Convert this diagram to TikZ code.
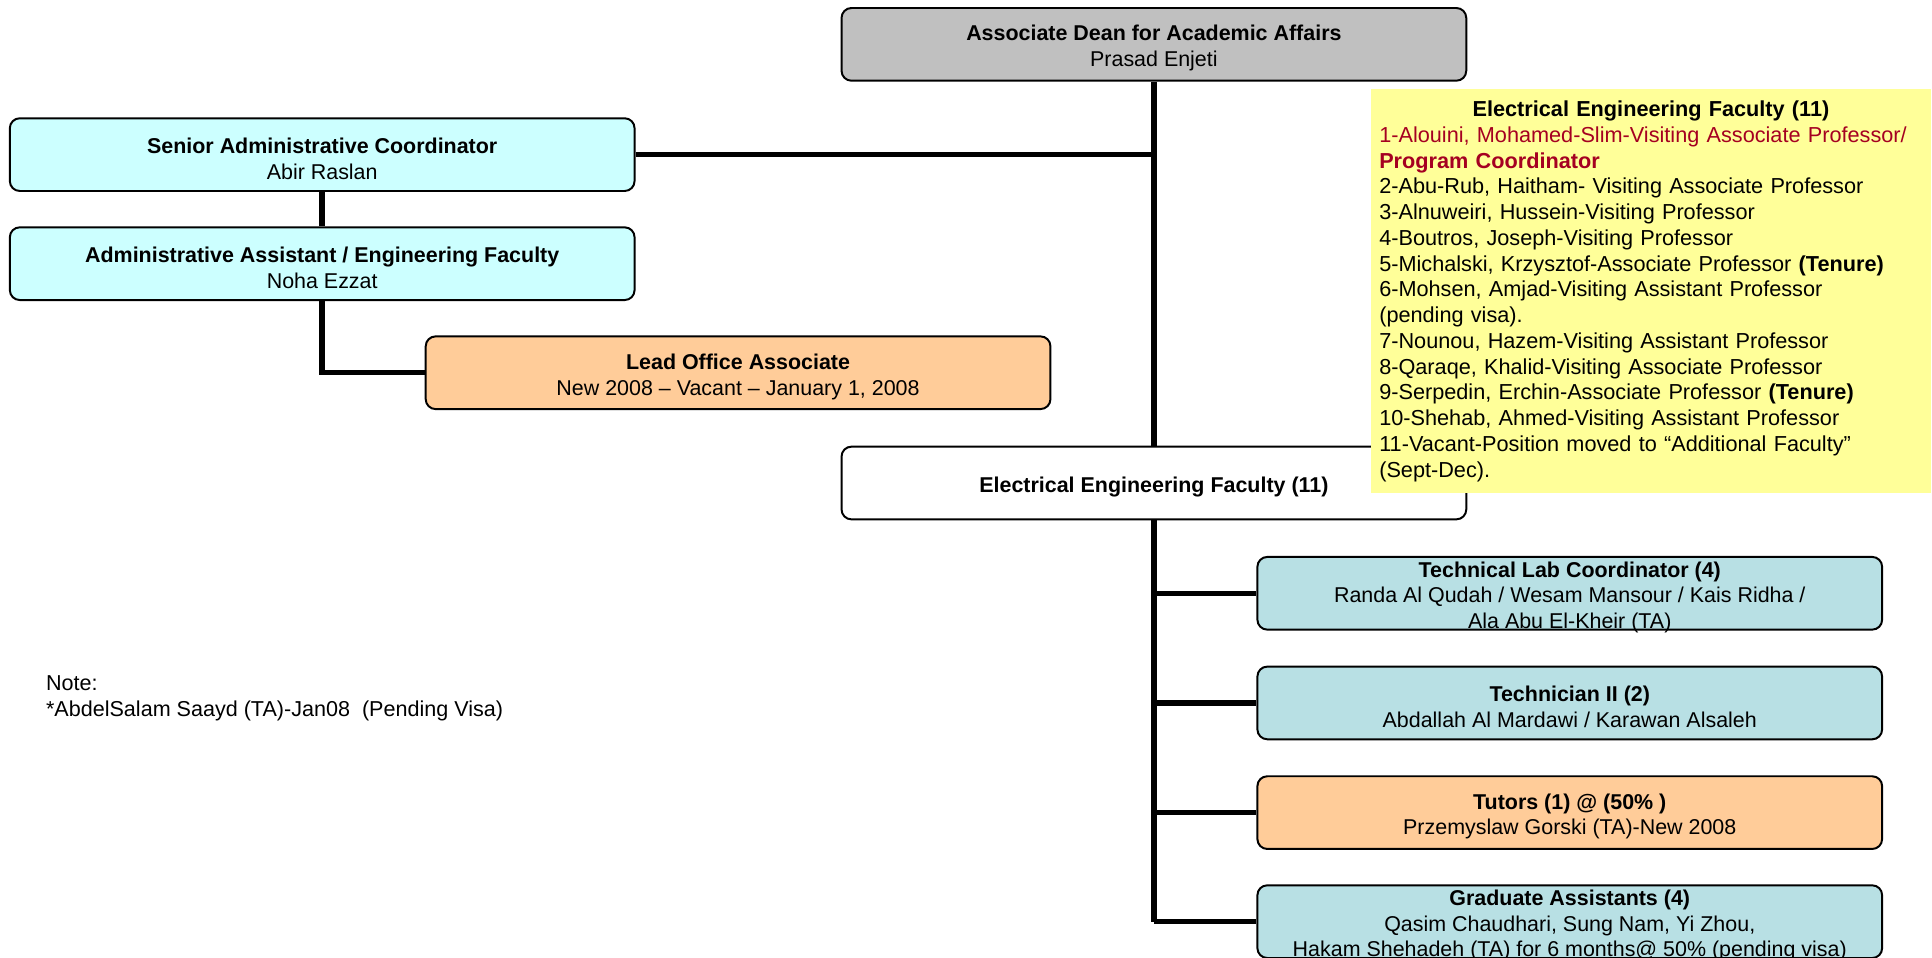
\documentclass[tikz,border=0pt]{standalone}
\usepackage{fontspec}
\setmainfont{Liberation Sans}
\definecolor{deangray}{RGB}{192,192,192}
\definecolor{admincyan}{RGB}{204,255,255}
\definecolor{vacorange}{RGB}{255,204,153}
\definecolor{staffblue}{RGB}{184,224,228}
\definecolor{listyellow}{RGB}{255,255,153}
\definecolor{coordred}{RGB}{165,0,33}
\begin{document}
\begin{tikzpicture}[x=0.5pt,y=-0.5pt,
  boxtext/.style={align=center,yshift=-1.6pt,font=\fontsize{8.7}{10.45}\selectfont},
  orgbox/.style={draw,line width=0.8pt,rounded corners=4pt,minimum width=253.5pt,minimum height=29.5pt,
    inner sep=0pt,label={[boxtext]center:#1}},
  link/.style={line width=2.2pt}]
\useasboundingbox (0,0) rectangle (1568,777);
\node[orgbox={\textbf{Associate Dean for Academic Affairs}\\Prasad Enjeti},fill=deangray] at (936.5,36) (dean) {};
\node[orgbox={\textbf{Senior Administrative Coordinator}\\Abir Raslan},fill=admincyan] at (261.5,125.5) (senior) {};
\node[orgbox={\textbf{Administrative Assistant / Engineering Faculty}\\Noha Ezzat},fill=admincyan] at (261.5,214) (admin) {};
\node[orgbox={\textbf{Lead Office Associate}\\New 2008 -- Vacant -- January 1, 2008},fill=vacorange] at (599,302.5) (lead) {};
\node[orgbox={\textbf{Electrical Engineering Faculty (11)}},fill=white] at (936.5,392) (eef) {};
\node[orgbox={\textbf{Technical Lab Coordinator (4)}\\Randa Al Qudah / Wesam Mansour / Kais Ridha /\\Ala Abu El-Kheir (TA)},
  fill=staffblue] at (1274,481.5) (techlab) {};
\node[orgbox={\textbf{Technician II (2)}\\Abdallah Al Mardawi / Karawan Alsaleh},fill=staffblue] at (1274,570.5) (techii) {};
\node[orgbox={\textbf{Tutors (1) @ (50\% )}\\Przemyslaw Gorski (TA)-New 2008},fill=vacorange] at (1274,659.5) (tutors) {};
\node[orgbox={\textbf{Graduate Assistants (4)}\\Qasim Chaudhari, Sung Nam, Yi Zhou,\\Hakam Shehadeh (TA) for 6 months@ 50\% (pending visa)},
  fill=staffblue] at (1274,748) (grad) {};
% connectors
\draw[link] (dean.south) -- (eef.north);
\draw[link] (senior.east) -- (senior.east -| dean.south);
\draw[link] (senior.south) -- (admin.north);
\draw[link] (admin.south) |- (lead.west);
\draw[link] (eef.south) -- (eef.south |- grad.west);
\foreach \n in {techlab,techii,tutors,grad}
  \draw[link] (eef.south |- \n.west) -- (\n.west);
\node[anchor=north west,align=left,inner sep=0pt,font=\fontsize{8.75}{10.45}\selectfont] at (37,548) (note)
  {Note:\\*AbdelSalam Saayd (TA)-Jan08~~(Pending Visa)};
% faculty list
\node[anchor=north west,fill=listyellow,minimum width=227.5pt,minimum height=164pt,text width=220.5pt,
  inner xsep=3.5pt,inner ysep=4.5pt,align=left,font=\fontsize{8.8}{10.45}\selectfont] at (1112,72) (eeflist)
  {\makebox[\linewidth]{\textbf{Electrical Engineering Faculty (11)}}\\
   \textcolor{coordred}{1-Alouini, Mohamed-Slim-Visiting Associate Professor/}\\
   \textcolor{coordred}{\textbf{Program Coordinator}}\\
   2-Abu-Rub, Haitham- Visiting Associate Professor\\
   3-Alnuweiri, Hussein-Visiting Professor\\
   4-Boutros, Joseph-Visiting Professor\\
   5-Michalski, Krzysztof-Associate Professor \textbf{(Tenure)}\\
   6-Mohsen, Amjad-Visiting Assistant Professor\\
   (pending visa).\\
   7-Nounou, Hazem-Visiting Assistant Professor\\
   8-Qaraqe, Khalid-Visiting Associate Professor\\
   9-Serpedin, Erchin-Associate Professor \textbf{(Tenure)}\\
   10-Shehab, Ahmed-Visiting Assistant Professor\\
   11-Vacant-Position moved to ``Additional Faculty''\\
   (Sept-Dec).};
\end{tikzpicture}
\end{document}
